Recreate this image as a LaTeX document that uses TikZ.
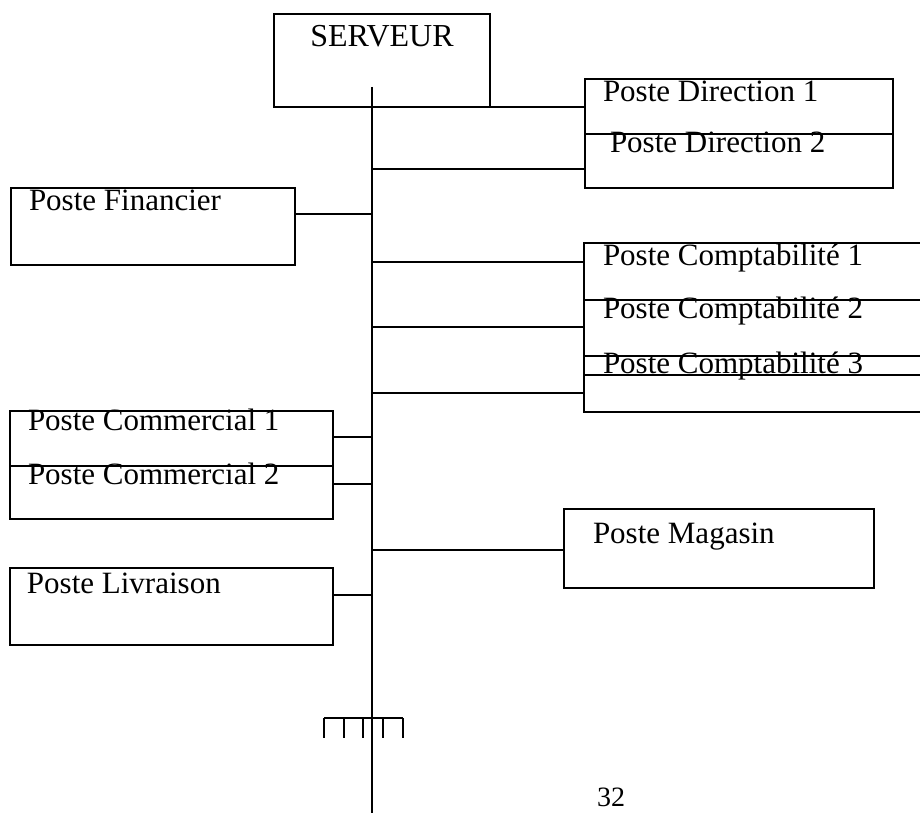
\documentclass[tikz,border=0pt]{standalone}
\usepackage{fontspec}
\setmainfont{Liberation Serif}
\begin{document}
\begin{tikzpicture}[x=1pt,y=-1pt,
  box/.style={draw,line width=2.2pt,rectangle,inner sep=0pt,outer sep=0pt,anchor=north west},
  lbl/.style={inner sep=0pt,outer sep=0pt,anchor=base west,font=\fontsize{31}{36}\selectfont},
  wire/.style={line width=2.2pt}]
\useasboundingbox (0,0) rectangle (920,813);
\clip (0,0) rectangle (920,813);
% bus
\coordinate (bustop) at (372,87);
\coordinate (busbot) at (372,830);
\draw[wire] (bustop) -- (busbot);
% server
\node[box,minimum width=216,minimum height=93] (srv) at (274,14) {};
\node[lbl,anchor=base,font=\fontsize{32}{36}\selectfont] (tsrv) at (382,47) {SERVEUR};
% right boxes
\node[box,minimum width=308,minimum height=55] (dir1) at (585,79) {};
\node[box,minimum width=308,minimum height=54] (dir2) at (585,134) {};
\node[lbl] (tdir1) at (603,102) {Poste Direction 1};
\node[lbl] (tdir2) at (610,153) {Poste Direction 2};
\node[box,minimum width=340,minimum height=57] (cpt1) at (584,243) {};
\node[box,minimum width=340,minimum height=56] (cpt2) at (584,300) {};
\node[box,minimum width=340,minimum height=56] (cpt3) at (584,356) {};
\node[lbl] (tcpt1) at (603,265) {Poste Comptabilité 1};
\node[lbl] (tcpt2) at (603,318) {Poste Comptabilité 2};
\node[lbl] (tcpt3) at (603,373) {Poste Comptabilité 3};
\coordinate (c3l) at (584,375);
\draw[wire] (c3l) -- (c3l -| cpt3.east);
\node[box,minimum width=310,minimum height=79] (mag) at (564,509) {};
\node[lbl] (tmag) at (593,543) {Poste Magasin};
% left boxes
\node[box,minimum width=284,minimum height=77] (fin) at (11,188) {};
\node[lbl] (tfin) at (29,210) {Poste Financier};
\node[lbl] (tcom1) at (28,430) {Poste Commercial 1};
\node[lbl] (tcom2) at (28,484) {Poste Commercial 2};
\node[box,minimum width=323,minimum height=55] (com1) at (10,411) {};
\node[box,minimum width=323,minimum height=53] (com2) at (10,466) {};
\node[box,minimum width=323,minimum height=77] (liv) at (10,568) {};
\node[lbl] (tliv) at (27,593) {Poste Livraison};
% connectors
\coordinate (j1) at (372,107);
\coordinate (j2) at (372,169);
\coordinate (j3) at (372,214);
\coordinate (j4) at (372,262);
\coordinate (j5) at (372,327);
\coordinate (j6) at (372,393);
\coordinate (j7) at (372,437);
\coordinate (j8) at (372,484);
\coordinate (j9) at (372,550);
\coordinate (j10) at (372,595);
\draw[wire] (j1) -- (j1 -| dir1.west);
\draw[wire] (j2) -- (j2 -| dir2.west);
\draw[wire] (j3) -- (j3 -| fin.east);
\draw[wire] (j4) -- (j4 -| cpt1.west);
\draw[wire] (j5) -- (j5 -| cpt2.west);
\draw[wire] (j6) -- (j6 -| cpt3.west);
\draw[wire] (j7) -- (j7 -| com1.east);
\draw[wire] (j8) -- (j8 -| com2.east);
\draw[wire] (j9) -- (j9 -| mag.west);
\draw[wire] (j10) -- (j10 -| liv.east);
% terminator comb
\coordinate (tl) at (324,718);
\coordinate (tr) at (403,718);
\draw[wire] (tl) -- (tr);
\foreach \xx in {324,344,363,383,403}{
  \draw[wire] (\xx,718) -- (\xx,738);
}
% page number
\node[lbl,font=\fontsize{28}{32}\selectfont] (pg) at (597,806) {32};
\end{tikzpicture}
\end{document}
